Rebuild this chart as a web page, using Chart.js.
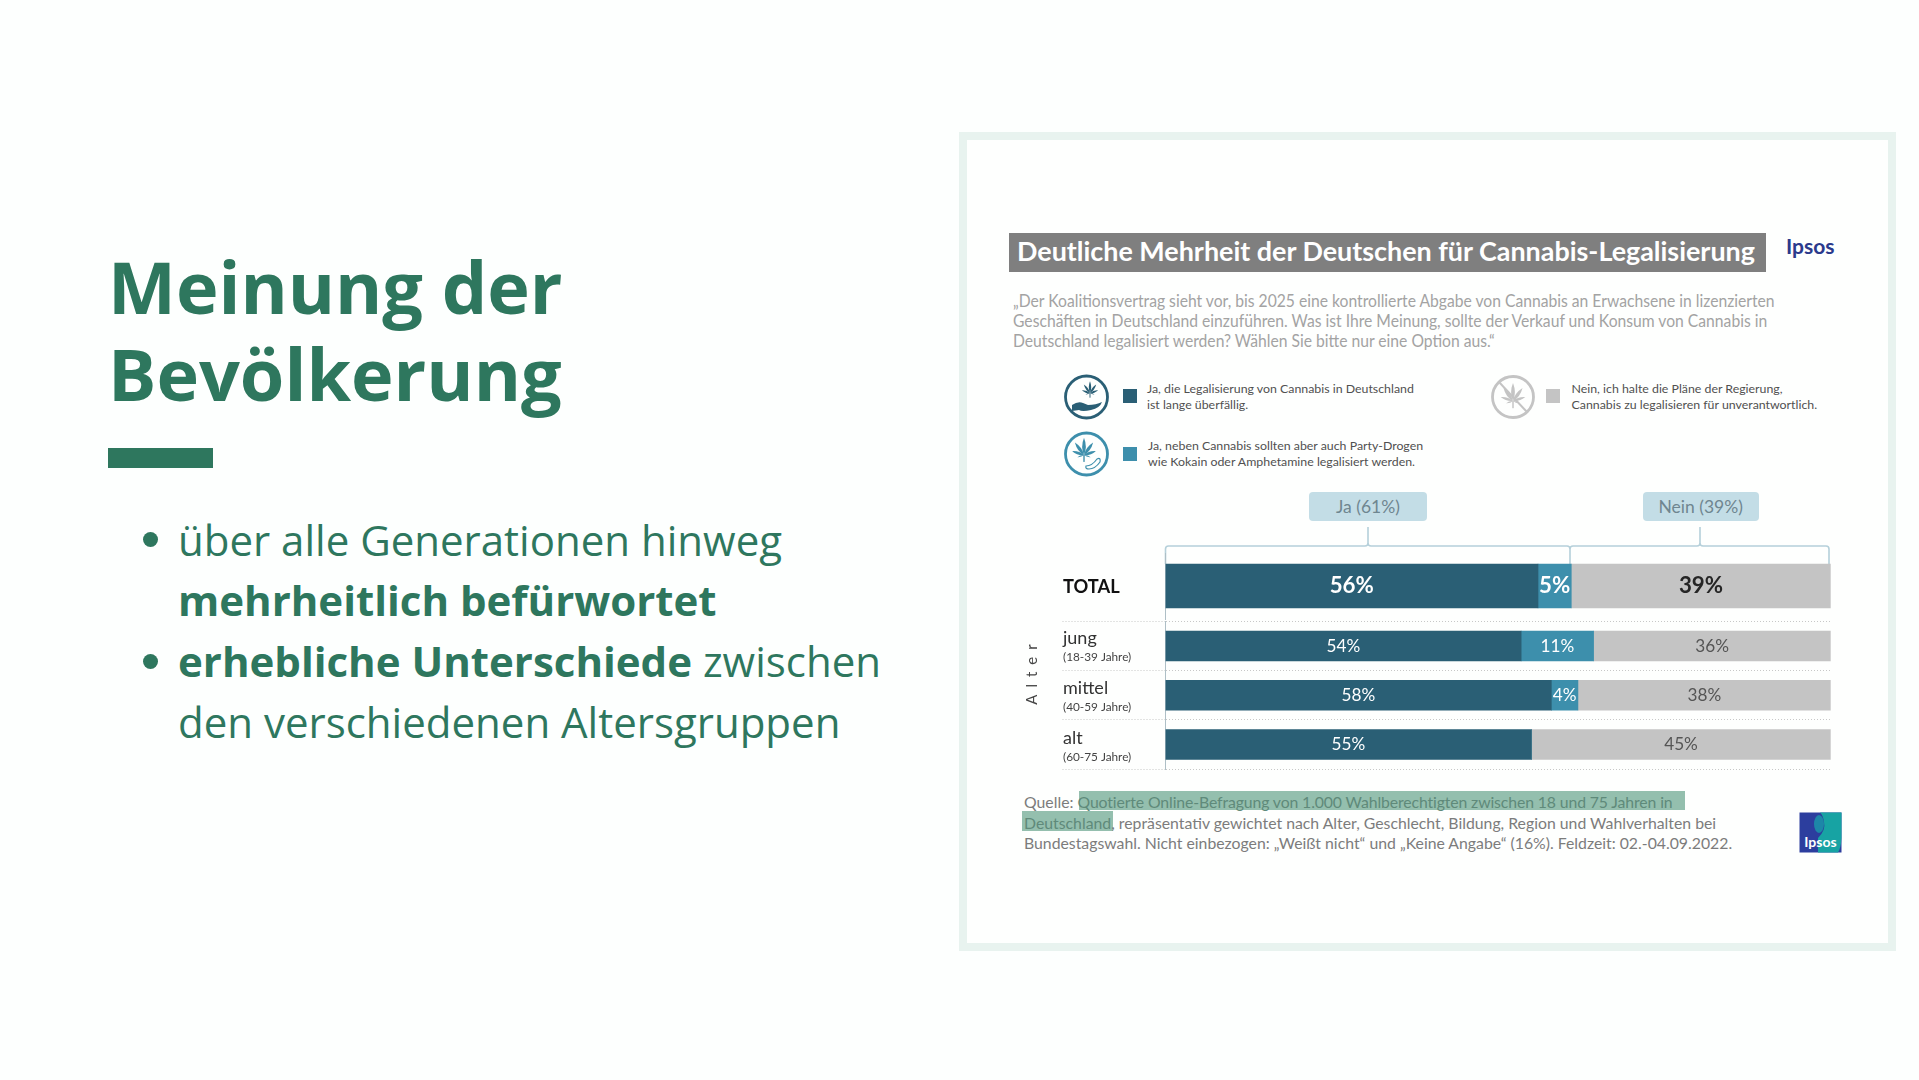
<!DOCTYPE html>
<html lang="de">
<head>
<meta charset="utf-8">
<title>Meinung der Bevölkerung</title>
<script src="https://cdn.jsdelivr.net/npm/chart.js@4"></script>
<style>
  html, body { margin: 0; padding: 0; background: #fdfffe; }
  body { position: relative; width: 1919px; height: 1080px; overflow: hidden; font-family: "Open Sans", sans-serif; color: #2e775e; }
  .abs { position: absolute; white-space: nowrap; }
  canvas { position: absolute; }
  #frame { left: 959px; top: 132px; width: 921px; height: 803px; border: 8px solid #e8f3ef; background: #fefffe; }
  .title { left: 108px; top: 243px; font-size: 72px; font-weight: 700; line-height: 87px; }
  .bullet { left: 178px; font-size: 42px; font-weight: 400; line-height: 61px; color: #2e775e; }
  .bullet b { font-weight: 700; }
  .dot { left: 143px; width: 15px; height: 15px; border-radius: 50%; background: #2e775e; }
  .pic { font-family: Lato, sans-serif; }
  .q { left: 1013px; font-size: 17px; line-height: 20px; color: #a3a3a3; transform: scaleX(.922); transform-origin: 0 0; }
  .leg { font-size: 12.35px; line-height: 16px; color: #505050; }
  .sq { width: 14px; height: 14px; }
  .box { height: 29px; line-height: 29px; border-radius: 4px; background: #c3dde6; color: #6f8690; font-size: 17.5px; text-align: center; }
  .src { left: 1024px; font-size: 15.8px; line-height: 20px; color: #7c7c7c; }
  .hl { background: #94bfae; position: absolute; }
</style>
</head>
<body>
<div class="abs title">Meinung der<br>Bevölkerung</div>
<div class="abs" style="left:108px;top:448px;width:105px;height:20px;background:#2e775e"></div>
<div class="abs dot" style="top:532px"></div>
<div class="abs dot" style="top:654px"></div>
<div class="abs bullet" style="top:509px">über alle Generationen hinweg</div>
<div class="abs bullet" style="top:569px"><b>mehrheitlich befürwortet</b></div>
<div class="abs bullet" style="top:630px"><b>erhebliche Unterschiede</b> zwischen</div>
<div class="abs bullet" style="top:691px">den verschiedenen Altersgruppen</div>

<div class="abs" id="frame"></div>

<div class="abs" style="left:1009px;top:233px;width:757px;height:39px;background:#7f7f7f"></div>
<div class="abs pic" style="left:1017px;top:231px;line-height:40px;font-size:26.9px;font-weight:700;color:#fff">Deutliche Mehrheit der Deutschen für Cannabis-Legalisierung</div>
<div class="abs pic" style="left:1786px;top:232px;line-height:28px;font-size:21px;font-weight:700;color:#2b3a8c">Ipsos</div>

<div class="abs pic q" style="top:291px">„Der Koalitionsvertrag sieht vor, bis 2025 eine kontrollierte Abgabe von Cannabis an Erwachsene in lizenzierten</div>
<div class="abs pic q" style="top:311px">Geschäften in Deutschland einzuführen. Was ist Ihre Meinung, sollte der Verkauf und Konsum von Cannabis in</div>
<div class="abs pic q" style="top:331px">Deutschland legalisiert werden? Wählen Sie bitte nur eine Option aus.“</div>

<svg class="abs" style="left:0;top:0" width="1919" height="1080">
  <defs>
    <path id="blatt" d="M0 0 Q3.2 -7 0 -15 Q-3.2 -7 0 0 Z"/>
    <g id="leaf">
      <use href="#blatt"/>
      <use href="#blatt" transform="rotate(36) scale(.9)"/>
      <use href="#blatt" transform="rotate(-36) scale(.9)"/>
      <use href="#blatt" transform="rotate(72) scale(.72)"/>
      <use href="#blatt" transform="rotate(-72) scale(.72)"/>
      <use href="#blatt" transform="rotate(108) scale(.4)"/>
      <use href="#blatt" transform="rotate(-108) scale(.4)"/>
      <rect x="-.6" y="0" width="1.2" height="6"/>
    </g>
  </defs>
  <circle cx="1086.5" cy="397" r="21" fill="none" stroke="#2a5f75" stroke-width="2.8"/>
  <use href="#leaf" fill="#2a5f75" transform="translate(1090 393) scale(.78)"/>
  <path d="M1072 405 q6 -4 11 -2 l5 2 q8 0 14 -3 q-2 6 -11 8 q-9 2 -12 0 l-7 1 z" fill="#2a5f75"/>
  <circle cx="1086.5" cy="454" r="21" fill="none" stroke="#3d8fac" stroke-width="2.8"/>
  <use href="#leaf" fill="#3d8fac" transform="translate(1084 455) scale(1.15)"/>
  <path d="M1086 466 q6 0 11 -7 q4 -2 3 3 q-5 7 -11 7 q-4 0 -3 -3 z" fill="none" stroke="#3d8fac" stroke-width="1.2"/>
  <circle cx="1513" cy="397" r="20.5" fill="none" stroke="#c4c4c4" stroke-width="2.8"/>
  <use href="#leaf" fill="#c4c4c4" transform="translate(1513 401) scale(1.2)"/>
  <line x1="1499" y1="382" x2="1527" y2="412" stroke="#c4c4c4" stroke-width="2"/>
  <!-- Klammern Ja / Nein -->
  <path d="M1165.5 564 V549 q0 -3 3 -3 H1365 q3 0 3 -3 V527 M1368 543 q0 3 3 3 H1567 q3 0 3 3 V564 M1570 549 q0 -3 3 -3 H1697 q3 0 3 -3 V527 M1700 543 q0 3 3 3 H1826 q3 0 3 3 V564" fill="none" stroke="#b5d0da" stroke-width="1.6"/>
  <!-- Ipsos Logo -->
  <rect x="1799.5" y="812.5" width="42" height="40" fill="#2c3e9e"/>
  <path d="M1820 812.5 H1841.5 V838 Q1841 848 1838 852.5 H1818 V838 Q1826 830 1824 822 Q1823 815 1820 812.5 Z" fill="#17a3a3"/>
  <ellipse cx="1819" cy="824" rx="5" ry="9" fill="#1d87a8"/>
</svg>

<div class="abs sq" style="left:1123px;top:389px;background:#2a5f75"></div>
<div class="abs sq" style="left:1123px;top:447px;background:#3d8fac"></div>
<div class="abs sq" style="left:1546px;top:389px;background:#c4c4c4"></div>
<div class="abs pic leg" style="left:1147px;top:381px">Ja, die Legalisierung von Cannabis in Deutschland<br>ist lange überfällig.</div>
<div class="abs pic leg" style="left:1148px;top:438px">Ja, neben Cannabis sollten aber auch Party-Drogen<br>wie Kokain oder Amphetamine legalisiert werden.</div>
<div class="abs pic leg" style="left:1571.5px;top:381px">Nein, ich halte die Pläne der Regierung,<br>Cannabis zu legalisieren für unverantwortlich.</div>

<div class="abs pic box" style="left:1309px;top:492px;width:118px">Ja (61%)</div>
<div class="abs pic box" style="left:1642.5px;top:492px;width:116.5px">Nein (39%)</div>

<canvas id="chartTotal" width="790" height="80" style="left:1050px;top:546px"></canvas>
<canvas id="chartAlter" width="790" height="160" style="left:1050px;top:615px"></canvas>
<div class="abs pic" style="left:1031px;top:671px;transform:translate(-50%,-50%) rotate(-90deg);font-size:15px;letter-spacing:7px;color:#444">Alter</div>

<div class="hl" style="left:1079px;top:791px;width:606px;height:19px"></div>
<div class="hl" style="left:1022px;top:811px;width:91px;height:20px"></div>
<div class="abs pic src" style="top:792px">Quelle: <span style="color:#5f8a7a;letter-spacing:-.12px">Quotierte Online-Befragung von 1.000 Wahlberechtigten zwischen 18 und 75 Jahren in</span></div>
<div class="abs pic src" style="top:813px"><span style="color:#5f8a7a">Deutschland</span>, repräsentativ gewichtet nach Alter, Geschlecht, Bildung, Region und Wahlverhalten bei</div>
<div class="abs pic src" style="top:833px">Bundestagswahl. Nicht einbezogen: „Weißt nicht“ und „Keine Angabe“ (16%). Feldzeit: 02.-04.09.2022.</div>

<div class="abs pic" style="left:1799.5px;top:833px;width:42px;text-align:center;font-size:14px;font-weight:700;line-height:18px;color:#fff">Ipsos</div>

<script>
// Werte
const totalLabel = ['TOTAL'];
const totalJa = [56];
const totalParty = [5];
const totalNein = [39];

const alterLabels = ['jung', 'mittel', 'alt'];
const alterSpannen = ['(18-39 Jahre)', '(40-59 Jahre)', '(60-75 Jahre)'];
const alterJa = [54, 58, 55];
const alterParty = [11, 4, 0];
const alterNein = [36, 38, 45];

const FARBE_JA = '#2a5f75';
const FARBE_PARTY = '#3d8fac';
const FARBE_NEIN = '#c4c4c4';

// jede Zeile fuellt die volle Breite, auch wenn die Rundung 101 ergibt
function anteile(reihe, a, b, c) {
  return reihe.map((v, i) => v / (a[i] + b[i] + c[i]) * 100);
}

const balkenText = {
  id: 'balkenText',
  afterDatasetsDraw(chart, args, opts) {
    const ctx = chart.ctx;
    ctx.save();
    ctx.textAlign = 'center';
    ctx.textBaseline = 'middle';
    chart.data.datasets.forEach((ds, d) => {
      chart.getDatasetMeta(d).data.forEach((bar, i) => {
        const wert = ds.werte[i];
        if (!wert) return;
        ctx.font = opts.font;
        ctx.fillStyle = ds.textFarbe;
        ctx.fillText(wert + '%', bar.getCenterPoint().x, bar.y);
      });
    });
    ctx.restore();
  }
};

const zeilenText = {
  id: 'zeilenText',
  afterDraw(chart, args, opts) {
    const ctx = chart.ctx;
    const y = chart.scales.y;
    ctx.save();
    ctx.textAlign = 'left';
    ctx.textBaseline = 'middle';
    y.getLabels().forEach((name, i) => {
      const py = y.getPixelForTick(i) + i * 0.75;
      ctx.fillStyle = opts.farbe;
      ctx.font = opts.font;
      ctx.fillText(name, 13, opts.zusatz ? py - 8 : py + 1);
      if (opts.zusatz) {
        ctx.font = '11.8px Lato';
        ctx.fillStyle = '#444';
        ctx.fillText(opts.zusatz[i], 13, py + 11);
      }
    });
    ctx.restore();
  }
};

function balken(canvasId, labels, ja, party, nein, dicke, padTop, padBottom, textFont, zeilen, neinText, mitTicks) {
  const reihen = [
    { werte: ja, farbe: FARBE_JA, text: '#ffffff' },
    { werte: party, farbe: FARBE_PARTY, text: '#ffffff' },
    { werte: nein, farbe: FARBE_NEIN, text: neinText }
  ];
  return new Chart(document.getElementById(canvasId), {
    type: 'bar',
    data: {
      labels,
      datasets: reihen.map(r => ({
        data: anteile(r.werte, ja, party, nein),
        werte: r.werte,
        textFarbe: r.text,
        backgroundColor: r.farbe,
        barThickness: dicke
      }))
    },
    options: {
      indexAxis: 'y',
      responsive: false,
      animation: false,
      layout: { padding: { left: 12.5, right: 9.3, top: padTop, bottom: padBottom } },
      scales: {
        x: { display: false, stacked: true, min: 0, max: 100 },
        y: {
          stacked: true,
          grid: {
            drawOnChartArea: mitTicks,
            drawTicks: true,
            tickLength: 103,
            tickColor: mitTicks ? '#c8c8c8' : 'rgba(0,0,0,0)',
            tickBorderDash: [1, 2],
            color: '#c8c8c8'
          },
          border: { display: true, color: '#aebfc6', dash: [1, 2] },
          ticks: { display: false }
        }
      },
      plugins: {
        legend: { display: false },
        tooltip: { enabled: false },
        balkenText: { font: textFont },
        zeilenText: zeilen
      }
    },
    plugins: [balkenText, zeilenText]
  });
}

balken('chartTotal', totalLabel, totalJa, totalParty, totalNein, 44, 7, 7, 'bold 22.3px Lato',
  { font: 'bold 18.3px Lato', farbe: '#111' }, '#262626', false);
balken('chartAlter', alterLabels, alterJa, alterParty, alterNein, 30, 6.4, 5.9, '17.2px Lato',
  { font: '18px Lato', farbe: '#333', zusatz: alterSpannen }, '#555', true);
</script>
</body>
</html>
